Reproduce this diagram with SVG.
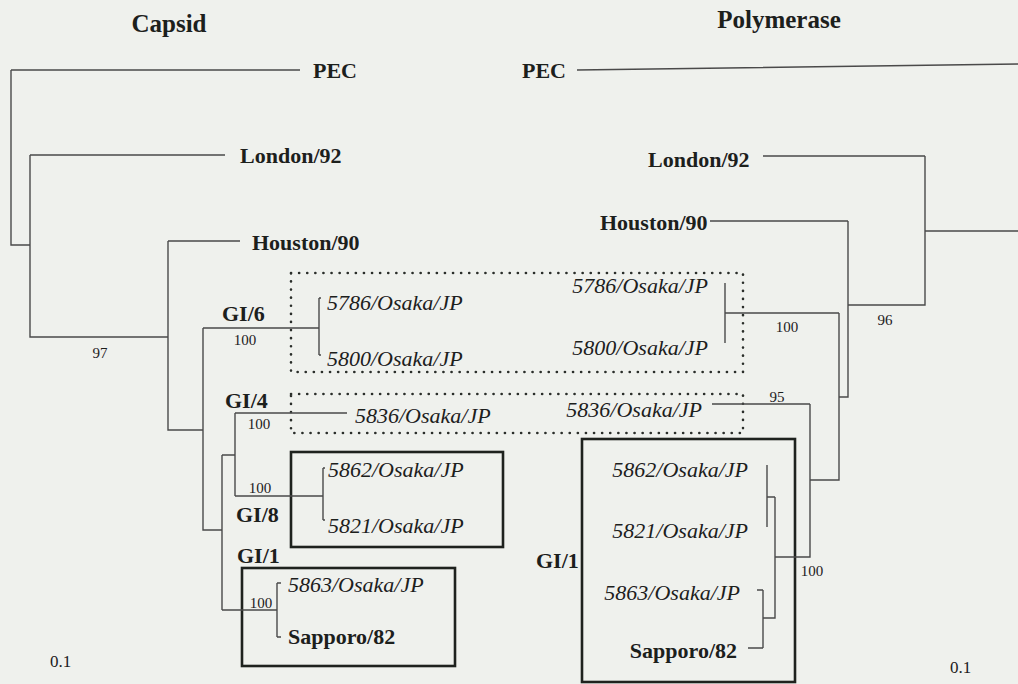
<svg xmlns="http://www.w3.org/2000/svg" width="1018" height="684" viewBox="0 0 1018 684">
<style>
text{font-family:'Liberation Serif','Times New Roman','DejaVu Serif',serif;fill:#1c201c}
.t{font-size:25px;font-weight:bold}
.b{font-size:22px;font-weight:bold}
.i{font-size:22px;font-style:italic}
.n{font-size:15px}
.s{font-size:17px}
.e{text-anchor:end}
.m{text-anchor:middle}
.ln{fill:none;stroke:#4a4a4a;stroke-width:1.4}
.box{fill:none;stroke:#1e221e;stroke-width:2.6}
.dot{fill:none;stroke:#2a2e2a;stroke-width:2.6;stroke-dasharray:0.1 8;stroke-linecap:round}
</style>
<rect width="1018" height="684" fill="#eff1ed"/>
<g font-family="Liberation Serif, Times New Roman, DejaVu Serif, serif">
<g id="titles">
<text class="t m" x="169" y="32">Capsid</text>
<text class="t m" x="779" y="28">Polymerase</text>
</g>
<g id="boxes">
<rect class="dot" x="291" y="273" width="452" height="99"/>
<rect class="dot" x="291" y="394" width="452" height="39"/>
<rect class="box" x="291" y="452" width="212" height="95"/>
<rect class="box" x="242" y="568" width="213" height="98"/>
<rect class="box" x="582" y="439" width="213" height="243"/>
</g>
<g id="connectors">
<path class="ln" d="M11,70 H300 M11,70 V245 H30 M30,155 H225 M30,155 V337 H168 M168,241 H240 M168,241 V430 H203 M203,328 H319 M319,298 V355 M319,298 h2 M319,355 h2 M203,328 V530 H222 M222,455 V610 M222,455 H235 M235,413 V496 M235,413 H347 M235,496 H323 M323,468 V520 M323,468 h2 M323,520 h2 M222,610 H277 M277,583 V637 M277,583 H281 M277,637 H281"/>
<path class="ln" d="M577,70 L1018,64 M763,156 H925 M925,156 V305 H848 M925,231 H1018 M710,221 H848 M848,221 V397 H839 M725,283 V343 M725,313 H839 M839,313 V480 H810 M712,404 H810 M810,404 V557 H775 M767,465 V527 M767,497 H775 M775,497 V618 H763 M763,590 V648 M757,590 H763 M748,648 H763"/>
</g>
<g id="capsid-PEC"><text class="b" x="313" y="78">PEC</text></g>
<g id="capsid-London"><text class="b" x="240" y="163">London/92</text></g>
<g id="capsid-Houston"><text class="b" x="252" y="250">Houston/90</text></g>
<g id="capsid-5786"><text class="i" x="327" y="310">5786/Osaka/JP</text></g>
<g id="capsid-5800"><text class="i" x="327" y="366">5800/Osaka/JP</text></g>
<g id="capsid-5836"><text class="i" x="355" y="423">5836/Osaka/JP</text></g>
<g id="capsid-5862"><text class="i" x="328" y="477">5862/Osaka/JP</text></g>
<g id="capsid-5821"><text class="i" x="328" y="533">5821/Osaka/JP</text></g>
<g id="capsid-5863"><text class="i" x="288" y="592">5863/Osaka/JP</text></g>
<g id="capsid-Sapporo"><text class="b" x="288" y="644">Sapporo/82</text></g>
<g id="capsid-labels">
<text class="b" x="222" y="321">GI/6</text>
<text class="b" x="225" y="408">GI/4</text>
<text class="b" x="236" y="522">GI/8</text>
<text class="b" x="237" y="563">GI/1</text>
<text class="n m" x="100" y="358">97</text>
<text class="n m" x="245" y="345">100</text>
<text class="n m" x="259" y="429">100</text>
<text class="n m" x="260" y="493">100</text>
<text class="n m" x="261" y="608">100</text>
<text class="s" x="50" y="667">0.1</text>
</g>
<g id="pol-PEC"><text class="b" x="522" y="78">PEC</text></g>
<g id="pol-London"><text class="b" x="648" y="167">London/92</text></g>
<g id="pol-Houston"><text class="b" x="600" y="230">Houston/90</text></g>
<g id="pol-5786"><text class="i e" x="708" y="293">5786/Osaka/JP</text></g>
<g id="pol-5800"><text class="i e" x="708" y="355">5800/Osaka/JP</text></g>
<g id="pol-5836"><text class="i e" x="702" y="417">5836/Osaka/JP</text></g>
<g id="pol-5862"><text class="i e" x="748" y="477">5862/Osaka/JP</text></g>
<g id="pol-5821"><text class="i e" x="748" y="538">5821/Osaka/JP</text></g>
<g id="pol-5863"><text class="i e" x="740" y="600">5863/Osaka/JP</text></g>
<g id="pol-Sapporo"><text class="b e" x="737" y="658">Sapporo/82</text></g>
<g id="pol-labels">
<text class="b" x="536" y="568">GI/1</text>
<text class="n m" x="885" y="325">96</text>
<text class="n m" x="787" y="332">100</text>
<text class="n m" x="777" y="402">95</text>
<text class="n m" x="812" y="576">100</text>
<text class="s" x="950" y="673">0.1</text>
</g>
</g>
</svg>
